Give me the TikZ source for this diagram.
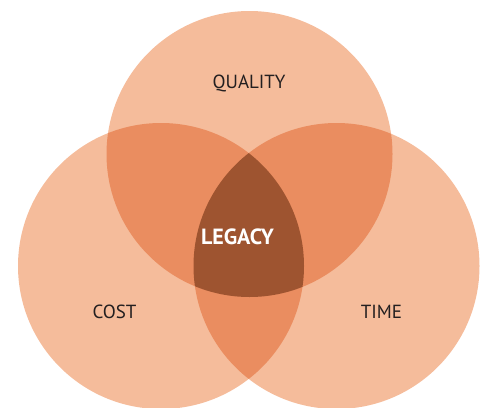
\documentclass[tikz,border=0pt]{standalone}
\usepackage{fontspec}
\setmainfont{PT Sans}
\definecolor{light}{RGB}{245,188,155}
\definecolor{mid}{RGB}{234,141,96}
\definecolor{dark}{RGB}{158,84,48}
\definecolor{txt}{RGB}{35,31,32}
\begin{document}
\begin{tikzpicture}[x=1pt,y=-1pt,
  lbl/.style={text=txt,font=\fontsize{19}{19}\selectfont,inner sep=0pt},
  circ/.style={fill=light,draw=none}]
\useasboundingbox (0,0) rectangle (484,407);
\def\rr{143}
\coordinate (q) at (249.5,154);
\coordinate (c) at (161,266);
\coordinate (t) at (336.5,266);
\fill[light] (q) circle (\rr);
\fill[light] (c) circle (\rr);
\fill[light] (t) circle (\rr);
\begin{scope}
  \clip (q) circle (\rr);
  \fill[mid] (c) circle (\rr);
  \fill[mid] (t) circle (\rr);
\end{scope}
\begin{scope}
  \clip (c) circle (\rr);
  \fill[mid] (t) circle (\rr);
\end{scope}
\begin{scope}
  \clip (q) circle (\rr);
  \clip (c) circle (\rr);
  \fill[dark] (t) circle (\rr);
\end{scope}
\node[lbl] (quality) at (249,83) {QUALITY};
\node[lbl] (cost) at (114.5,312) {COST};
\node[lbl] (time) at (381.5,312) {TIME};
\node[lbl,text=white,font=\fontsize{22}{22}\selectfont\bfseries] (legacy) at (237.5,237) {LEGACY};
\end{tikzpicture}
\end{document}
